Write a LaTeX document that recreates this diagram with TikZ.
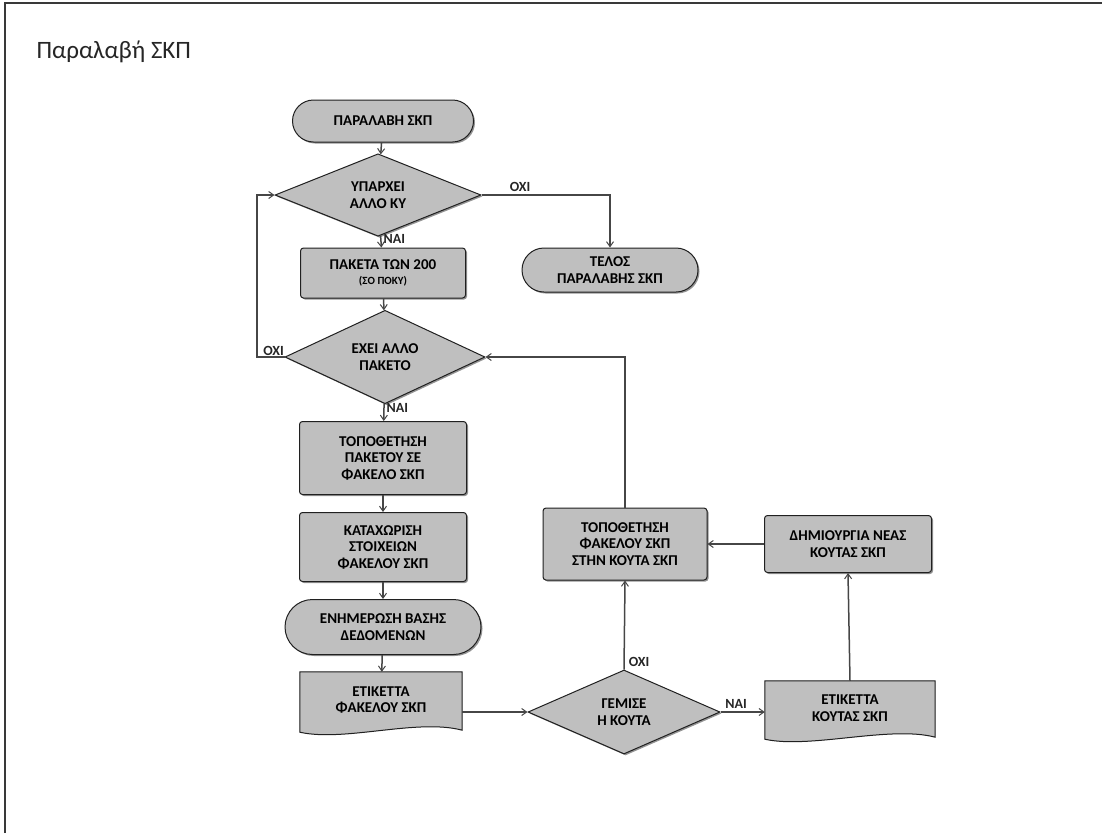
\documentclass[tikz,border=0pt]{standalone}
\usepackage{fontspec}
\setmainfont{Carlito}
\usetikzlibrary{shapes.geometric,shapes.misc,arrows.meta,backgrounds,shadows,calc}
\begin{document}
\begin{tikzpicture}[x=1pt,y=-1pt,
  base/.style={draw=gray!25!black, fill=gray!50, line width=1pt, text=black,
    font=\bfseries\fontsize{15}{16.5}\selectfont, align=center, inner sep=2pt,
    drop shadow={shadow xshift=1.5pt, shadow yshift=-1.5pt, fill=gray!60!black, opacity=0.6}},
  proc/.style={base, rectangle, rounded corners=3pt},
  term/.style={base, rounded rectangle},
  dec/.style={base, diamond, inner sep=0pt},
  docnode/.style={rectangle, draw=none, fill=none, text=black,
    font=\bfseries\fontsize{15}{16.5}\selectfont, align=center, inner sep=2pt},
  docshape/.style={draw=gray!25!black, fill=gray!50, line width=1pt},
  conn/.style={draw=gray!55!black, line width=1.5pt},
  arr/.style={conn, -{Straight Barb[length=5pt,width=7pt,line width=1pt]}},
  lbl/.style={font=\bfseries\fontsize{14}{16}\selectfont, text=black!85, inner sep=1pt}
]
\useasboundingbox (0,0) rectangle (1102,833);
% frame
\draw[gray!45!black, line width=2pt] (5,833) -- (5,3) -- (1102,3);
\node[anchor=base west, font=\fontsize{25}{28}\selectfont, text=black!85] (title) at (33,58) {Παραλαβή ΣΚΠ};

% left column
\node[term, minimum width=185pt, minimum height=42pt] (start) at (383,121) {ΠΑΡΑΛΑΒΗ ΣΚΠ};
\node[dec, minimum width=206pt, minimum height=80pt] (d1) at (378,195) {ΥΠΑΡΧΕΙ\\ΑΛΛΟ ΚΥ};
\node[proc, minimum width=165pt, minimum height=50pt] (b1) at (383,273) {ΠΑΚΕΤΑ ΤΩΝ 200\\[-1pt]{\fontsize{11}{12}\selectfont (ΣΟ ΠΟΚΥ)}};
\node[dec, minimum width=200pt, minimum height=88pt] (d2) at (385,357) {ΕΧΕΙ ΑΛΛΟ\\ΠΑΚΕΤΟ};
\node[proc, minimum width=167pt, minimum height=73pt] (b2) at (383,458) {ΤΟΠΟΘΕΤΗΣΗ\\ΠΑΚΕΤΟΥ ΣΕ\\ΦΑΚΕΛΟ ΣΚΠ};
\node[proc, minimum width=167pt, minimum height=69pt] (b3) at (383,547) {ΚΑΤΑΧΩΡΙΣΗ\\ΣΤΟΙΧΕΙΩΝ\\ΦΑΚΕΛΟΥ ΣΚΠ};
\node[term, minimum width=200pt, minimum height=55pt] (t2) at (383,627) {ΕΝΗΜΕΡΩΣΗ ΒΑΣΗΣ\\ΔΕΔΟΜΕΝΩΝ};
\node[docnode, minimum width=162pt, minimum height=56pt] (doc1) at (381,700) {ΕΤΙΚΕΤΤΑ\\ΦΑΚΕΛΟΥ ΣΚΠ};

% right part
\node[term, minimum width=180pt, minimum height=44pt] (end) at (610,270) {ΤΕΛΟΣ\\ΠΑΡΑΛΑΒΗΣ ΣΚΠ};
\node[dec, minimum width=192pt, minimum height=84pt] (d3) at (624,712) {ΓΕΜΙΣΕ\\Η ΚΟΥΤΑ};
\node[proc, minimum width=164pt, minimum height=72pt] (b4) at (625,544) {ΤΟΠΟΘΕΤΗΣΗ\\ΦΑΚΕΛΟΥ ΣΚΠ\\ΣΤΗΝ ΚΟΥΤΑ ΣΚΠ};
\node[proc, minimum width=167pt, minimum height=57pt] (b5) at (848,544) {ΔΗΜΙΟΥΡΓΙΑ ΝΕΑΣ\\ΚΟΥΤΑΣ ΣΚΠ};
\node[docnode, minimum width=170pt, minimum height=54pt] (doc2) at (850,708) {ΕΤΙΚΕΤΤΑ\\ΚΟΥΤΑΣ ΣΚΠ};

% document shapes behind their text
\begin{scope}[on background layer]
  \foreach \n in {doc1,doc2}{
    \fill[gray!60!black, opacity=0.6, shift={(1.5,1.5)}]
      (\n.north west) -- (\n.north east) -- ($(\n.south east)+(0,2)$)
      .. controls ($(\n.south east)+(-45,-10)$) and ($(\n.south west)+(45,14)$) .. ($(\n.south west)+(0,4)$) -- cycle;
    \draw[docshape]
      (\n.north west) -- (\n.north east) -- ($(\n.south east)+(0,2)$)
      .. controls ($(\n.south east)+(-45,-10)$) and ($(\n.south west)+(45,14)$) .. ($(\n.south west)+(0,4)$) -- cycle;
  }
\end{scope}

% connectors
\coordinate (loopx) at (257,0);
\draw[arr] (start) -- (d1);
\draw[arr] (d1) -- node[lbl, pos=0.25, right=1pt] (nai1) {ΝΑΙ} (b1);
\draw[arr] (d1.east) -| node[lbl, pos=0.15, above=2pt] (oxi1) {ΟΧΙ} (end.north);
\draw[arr] (b1) -- (d2);
\draw[arr] (d2) -- node[lbl, pos=0.25, right=1pt] (nai2) {ΝΑΙ} (b2);
\draw[arr] (d2.west) -- node[lbl, pos=0.4, above=0pt] (oxi2) {ΟΧΙ} (d2.west -| loopx) |- (d1.west);
\draw[arr] (b2) -- (b3);
\draw[arr] (b3) -- (t2);
\draw[arr] (t2) -- (doc1);
\draw[arr] (d3.west -| doc1.east) -- (d3.west);
\draw[arr] (d3.north) -- node[lbl, pos=0.08, right=3pt] (oxi3) {ΟΧΙ} (b4.south);
\draw[arr] (d3.east) -- node[lbl, pos=0.35, above=2pt] (nai3) {ΝΑΙ} (d3.east -| doc2.west);
\draw[arr] (doc2.north) -- (b5.south);
\draw[arr] (b5.west) -- (b4.east);
\draw[arr] (b4.north) |- (d2.east);
\end{tikzpicture}
\end{document}
